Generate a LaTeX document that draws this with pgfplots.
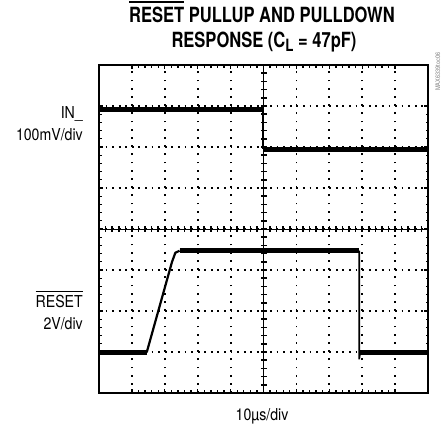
\documentclass[border=0pt]{standalone}
\usepackage{fontspec}
\setmainfont{TeX Gyre Heros}[FakeStretch=0.86]
\newfontfamily\titlefont{TeX Gyre Heros}[FakeStretch=0.79]
\usepackage{pgfplots}
\pgfplotsset{compat=1.18}
\def\ovl#1#2#3{\leavevmode\vbox{\hrule height #1\kern #2\hbox{#3}}}
\begin{document}
\begin{tikzpicture}
\useasboundingbox (-99bp,-34bp) rectangle (342bp,393bp);
\begin{axis}[
  at={(0,0)}, anchor=south west,
  scale only axis, width=329bp, height=328bp,
  xmin=0, xmax=10, ymin=0, ymax=8,
  axis line style={line width=2.6bp},
  xtick={1,...,9}, ytick={1,...,7},
  xticklabels={}, yticklabels={},
  minor x tick num=4, minor y tick num=4,
  tick align=inside,
  major tick length=4bp, minor tick length=2.5bp,
  every tick/.style={black, line width=1.3bp},
  grid=major,
  x grid style={black, line width=1.8bp, dash pattern=on 1.8bp off 6.4bp},
  y grid style={black, line width=1.8bp, dash pattern=on 1.8bp off 4.78bp},
  axis on top=false,
]
% centre crosshair
\draw[line width=1bp] (axis cs:5,0) -- (axis cs:5,8);
\draw[line width=6bp, dash pattern=on 1.6bp off 6.6bp, dash phase=0.8bp] (axis cs:5,0) -- (axis cs:5,8);
\draw[line width=1bp] (axis cs:0,4) -- (axis cs:10,4);
\draw[line width=6bp, dash pattern=on 1.6bp off 4.98bp, dash phase=0.8bp] (axis cs:0,4) -- (axis cs:10,4);
% IN_ trace
\addplot[black, line width=5bp] coordinates {(0,6.92) (4.98,6.92)};
\addplot[black, line width=1.8bp] coordinates {(4.98,6.92) (4.98,5.95)};
\addplot[black, line width=5bp] coordinates {(4.98,5.95) (10,5.95)};
% RESET trace
\addplot[black, line width=4.6bp] coordinates {(0,0.99) (1.45,0.99)};
\addplot[black, line width=2.2bp, line join=round] coordinates {(1.45,0.99) (2.22,3.2) (2.32,3.42) (2.45,3.47)};
\addplot[black, line width=4.6bp] coordinates {(2.45,3.47) (7.91,3.47)};
\addplot[black, line width=1.6bp] coordinates {(7.91,3.47) (7.91,0.82) (7.94,0.99)};
\addplot[black, line width=4.6bp] coordinates {(7.94,0.99) (10,0.99)};
\end{axis}
% title
\node[anchor=base, font=\titlefont\bfseries\fontsize{21}{21}\selectfont, inner sep=0pt] at (163bp,370bp) {\ovl{2bp}{4bp}{RESET} PULLUP AND PULLDOWN};
\node[anchor=base, font=\titlefont\bfseries\fontsize{21}{21}\selectfont, inner sep=0pt] at (165bp,345bp) {RESPONSE (C\raisebox{-4bp}{\fontsize{17}{17}\selectfont L} = 47pF)};
% left labels
\node[anchor=base east, font=\fontsize{16.5}{16.5}\selectfont, inner sep=0pt] at (-16bp,274bp) {IN\_};
\node[anchor=base east, font=\fontsize{16.5}{16.5}\selectfont, inner sep=0pt] at (-16bp,252bp) {100mV/div};
\node[anchor=base east, font=\fontsize{16.5}{16.5}\selectfont, inner sep=0pt] at (-16bp,85bp) {\ovl{1bp}{3.5bp}{RESET}};
\node[anchor=base east, font=\fontsize{16.5}{16.5}\selectfont, inner sep=0pt] at (-16bp,63bp) {2V/div};
% bottom label
\node[anchor=base, font=\fontsize{16.5}{16.5}\selectfont, inner sep=0pt] at (163bp,-27bp) {10µs/div};
% side code
\node[rotate=90, anchor=base west, font=\fontsize{6.5}{6.5}\selectfont, text=gray, inner sep=0pt] at (341bp,302bp) {MAX6339toc06};
\end{tikzpicture}
\end{document}
